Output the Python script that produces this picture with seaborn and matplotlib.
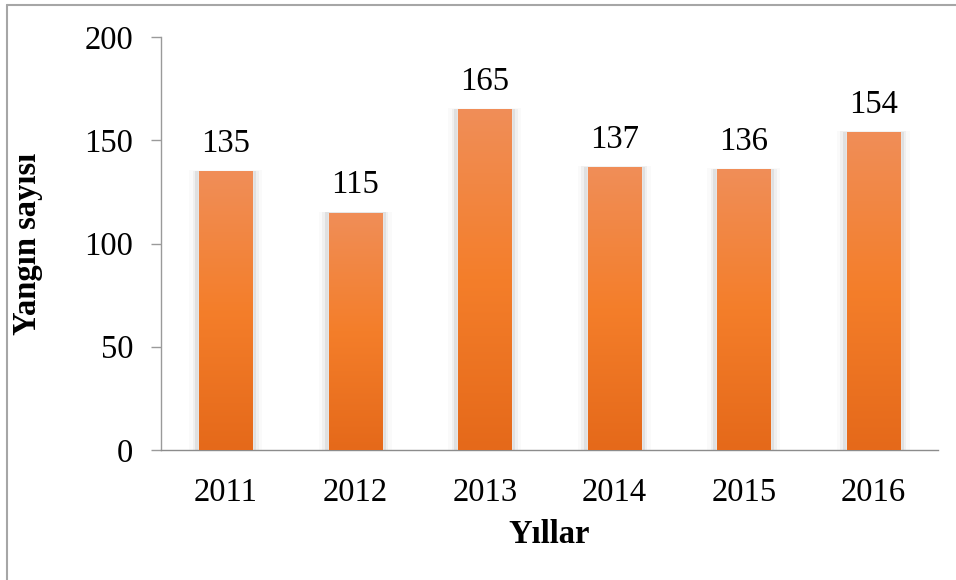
import numpy as np
import pandas as pd
import matplotlib
matplotlib.use("Agg")
import matplotlib.pyplot as plt
import seaborn as sns
from matplotlib.colors import LinearSegmentedColormap
from matplotlib.patches import Rectangle
from matplotlib.lines import Line2D

# Veriler
yillar = ["2011", "2012", "2013", "2014", "2015", "2016"]
yangin_sayisi = [135, 115, 165, 137, 136, 154]
y_ticks = [0, 50, 100, 150, 200]

df = pd.DataFrame({"Yıllar": yillar, "Yangın sayısı": yangin_sayisi})

sns.set_style("white")
plt.rcParams['font.family'] = ['Liberation Serif', 'DejaVu Serif']
plt.rcParams['text.color'] = 'black'
plt.rcParams['axes.labelcolor'] = 'black'
plt.rcParams['xtick.color'] = 'black'
plt.rcParams['ytick.color'] = 'black'

fs = 23.5

fig = plt.figure(figsize=(9.56, 5.8), dpi=100)
ax = fig.add_axes([161 / 956, 1 - 450 / 580, (938 - 161) / 956, (450 - 37) / 580])

bar_w = 0.41
sns.barplot(data=df, x="Yıllar", y="Yangın sayısı", color="#F47F2A",
            width=bar_w, ax=ax, zorder=3)

# gölge + gradyan (Excel tarzı)
grad = LinearSegmentedColormap.from_list("turuncu", ["#E5691A", "#F47E2A", "#F08E58"])
gradient = np.linspace(0, 1, 256).reshape(-1, 1)
for p in ax.patches:
    x0, w, h = p.get_x(), p.get_width(), p.get_height()
    for k, a in [(0.075, 0.04), (0.05, 0.08), (0.03, 0.14)]:
        ax.add_patch(Rectangle((x0 - k, 0), w + 2 * k, h + k * 6, color="#808080",
                               alpha=a, lw=0, zorder=2))
    im = ax.imshow(gradient, cmap=grad, aspect="auto", origin="lower",
                   extent=[x0, x0 + w, 0, h], zorder=4)
    im.set_clip_path(p)

ax.set_xlim(-0.5, len(yillar) - 0.5)
ax.set_ylim(0, 200)
ax.set_yticks(y_ticks)

for i, v in enumerate(yangin_sayisi):
    ax.text(i, v + 6, str(v), ha="center", va="bottom", fontsize=fs, zorder=5)

for s in ["top", "right"]:
    ax.spines[s].set_visible(False)
ax.spines["left"].set_color("#9A9A9A")
ax.spines["bottom"].set_color("#8C8C8C")
ax.spines["left"].set_linewidth(1)
ax.spines["bottom"].set_linewidth(1)

ax.tick_params(axis="y", left=True, length=7, width=1, color="#9A9A9A",
               labelsize=fs, labelcolor="black", pad=13, direction="out")
ax.tick_params(axis="x", bottom=False, labelsize=fs, labelcolor="black", pad=16)

ax.set_xlabel("Yıllar", fontsize=fs, fontweight="bold", labelpad=8)
ax.set_ylabel("Yangın sayısı", fontsize=fs, fontweight="bold", labelpad=30)

# çerçeve (üst ve sol kenar)
fig.add_artist(Line2D([7 / 956, 1], [1 - 5 / 580, 1 - 5 / 580], transform=fig.transFigure,
                      color="#A6A6A6", lw=1.5))
fig.add_artist(Line2D([7 / 956, 7 / 956], [0, 1 - 5 / 580], transform=fig.transFigure,
                      color="#A6A6A6", lw=1.5))

fig.savefig("out.png", dpi=100)
